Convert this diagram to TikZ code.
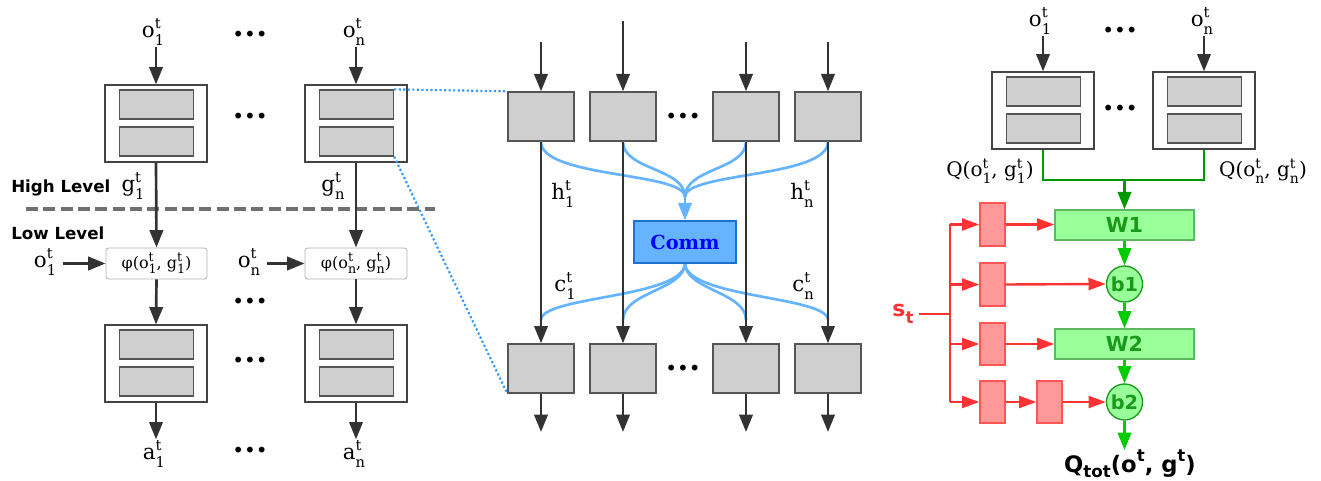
\documentclass[tikz,border=0pt]{standalone}
\usepackage{fontspec}
\setmainfont{DejaVu Serif}
\setsansfont{DejaVu Sans}
\usetikzlibrary{arrows.meta,fit,calc}
\definecolor{dark}{HTML}{333333}
\definecolor{grayfill}{HTML}{CFCFCF}
\definecolor{gborder}{HTML}{555555}
\definecolor{boxborder}{HTML}{444444}
\definecolor{lblue}{HTML}{66B3FF}
\definecolor{dblue}{HTML}{1F6FD0}
\definecolor{dotblue}{HTML}{3399FF}
\definecolor{dgreen}{HTML}{009900}
\definecolor{mgreen}{HTML}{00CC00}
\definecolor{lgreen}{HTML}{99FF99}
\definecolor{tgreen}{HTML}{1A9A1A}
\definecolor{rline}{HTML}{FF3333}
\definecolor{rfill}{HTML}{FF9999}
\definecolor{rborder}{HTML}{FF5555}
\definecolor{dashgray}{HTML}{707070}
\newcommand{\lbl}[3][11]{#2\rlap{\raisebox{0.8ex}{\fontsize{#1}{#1}\selectfont t}}\raisebox{-0.65ex}{\fontsize{#1}{#1}\selectfont #3}}
\newcommand{\twobox}[3]{%
 \pgfmathsetmacro{\xa}{#2}\pgfmathsetmacro{\xb}{#2+102}%
 \pgfmathsetmacro{\ya}{#3}\pgfmathsetmacro{\yb}{#3+77}%
 \pgfmathsetmacro{\ia}{#2+14.5}\pgfmathsetmacro{\ib}{#2+88.5}%
 \pgfmathsetmacro{\ja}{#3+5}\pgfmathsetmacro{\jb}{#3+34}%
 \pgfmathsetmacro{\jc}{#3+42}\pgfmathsetmacro{\jd}{#3+71}%
 \node[box, fit={(\xa,\ya) (\xb,\yb)}] (#1) {};
 \node[gbox, fit={(\ia,\ja) (\ib,\jb)}] (#1a) {};
 \node[gbox, fit={(\ia,\jc) (\ib,\jd)}] (#1b) {};}
\begin{document}
\begin{tikzpicture}[x=0.75pt,y=-0.75pt,
  box/.style={draw=boxborder, fill=white, line width=0.9pt, inner sep=0pt},
  gbox/.style={draw=gborder, fill=grayfill, line width=1pt, inner sep=0pt},
  phbox/.style={draw=black!30, fill=white, rounded corners=2pt, line width=0.7pt, inner sep=0pt},
  arr/.style={draw=dark, line width=2pt, -{Triangle[length=13pt,width=10pt]}},
  bline/.style={draw=lblue, line width=2pt},
  barr/.style={draw=lblue, line width=2pt, -{Triangle[length=13pt,width=10pt]}},
  dotl/.style={draw=dotblue, line width=1.6pt, dash pattern=on 1.6pt off 1.8pt},
  garr/.style={draw=dgreen, line width=2pt, -{Triangle[length=13pt,width=10pt]}},
  gline/.style={draw=dgreen, line width=2pt},
  marr/.style={draw=mgreen, line width=2pt, -{Triangle[length=13pt,width=10pt]}},
  rl/.style={draw=rline, line width=1.8pt},
  rarr/.style={draw=rline, line width=1.8pt, -{Triangle[length=13pt,width=9pt]}},
  rbox/.style={draw=rborder, fill=rfill, line width=1pt, inner sep=0pt},
  wbox/.style={draw=tgreen!70, fill=lgreen, line width=1pt, inner sep=0pt},
  wtxt/.style={text=tgreen, font=\sffamily\bfseries\fontsize{15.5}{15.5}\selectfont, inner sep=0pt},
  bcirc/.style={circle, draw=tgreen, fill=lgreen, line width=1pt, minimum size=27pt,
    inner sep=0pt, text=tgreen, font=\sffamily\bfseries\fontsize{14.5}{14.5}\selectfont},
  lab/.style={font=\fontsize{16}{16}\selectfont, inner sep=1pt},
  qlab/.style={font=\fontsize{15}{15}\selectfont, inner sep=1pt},
  dotsn/.style={font=\sffamily\fontsize{15}{15}\selectfont, inner sep=0pt},
  lvl/.style={font=\sffamily\bfseries\fontsize{12.5}{12.5}\selectfont, inner sep=0pt, anchor=west}]
\useasboundingbox (0,0) rectangle (1321,481);

% ================= LEFT PANEL =================
\coordinate (dl1) at (26,209);
\coordinate (dl2) at (435,209);
\draw[draw=dashgray, line width=2.7pt, dash pattern=on 9pt off 4pt] (dl1) -- (dl2);

\twobox{tb1}{105}{85}
\twobox{tbn}{305}{85}
\node[lab] (o1) at (153,32) {\lbl{o}{1}};
\node[lab] (on) at (354,32) {\lbl{o}{n}};
\draw[arr] (o1.south -| tb1.north) -- (tb1.north);
\draw[arr] (on.south -| tbn.north) -- (tbn.north);
\node[dotsn] (d1) at (250,36) {•••};
\node[dotsn] (d2) at (250,118) {•••};

\node[lvl] (hl) at (11,188) {High Level};
\node[lvl] (ll) at (11,233) {Low Level};
\node[lab] (g1) at (133,186) {\lbl{g}{1}};
\node[lab] (gn) at (333,186) {\lbl{g}{n}};

\node[phbox, fit={(106,248) (207,279)}] (ph1) {};
\node[font=\fontsize{12}{12}\selectfont, inner sep=0pt] at (ph1) {φ(\lbl[9.5]{o}{1}, \lbl[9.5]{g}{1})};
\node[phbox, fit={(305,248) (407,279)}] (phn) {};
\node[font=\fontsize{12}{12}\selectfont, inner sep=0pt] at (phn) {φ(\lbl[9.5]{o}{n}, \lbl[9.5]{g}{n})};
\draw[arr] (tb1.south) -- (ph1.north);
\draw[arr] (tbn.south) -- (phn.north);

\node[lab] (ol1) at (45,262) {\lbl{o}{1}};
\node[lab] (oln) at (249,262) {\lbl{o}{n}};
\draw[arr] ([xshift=4pt]ol1.east |- ph1.west) -- (ph1.west);
\draw[arr] ([xshift=4pt]oln.east |- phn.west) -- (phn.west);
\node[dotsn] (d3) at (250,303) {•••};

\twobox{lb1}{105}{325}
\twobox{lbn}{305}{325}
\draw[arr] (ph1.south) -- (lb1.north);
\draw[arr] (phn.south) -- (lbn.north);
\node[dotsn] (d4) at (250,362) {•••};

\node[lab] (a1) at (154,454) {\lbl{a}{1}};
\node[lab] (an) at (354,454) {\lbl{a}{n}};
\draw[arr] (lb1.south) -- (lb1.south |- a1.north);
\draw[arr] (lbn.south) -- (lbn.south |- an.north);
\node[dotsn] (d5) at (250,452) {•••};

% ================= MIDDLE PANEL =================
\foreach \i/\X in {1/541,2/623,3/746,4/828}{
  \node[gbox, fit={(\X-33,92) (\X+33,141)}] (mt\i) {};
  \node[gbox, fit={(\X-33,344) (\X+33,393)}] (mb\i) {};
  \coordinate (in\i) at (\X,42);
  \coordinate (out\i) at (\X,432);
  \coordinate (j\i) at (\X,320);
}
\coordinate (in2) at (623,21);
\node[dotsn] (d6) at (683,118) {•••};
\node[dotsn] (d7) at (683,370) {•••};

\draw[dotl] (tbna.north east) -- (mt1.north west);
\draw[dotl] (tbnb.south east) -- (mb1.south west);

\coordinate (cv) at (685,197);
% blue curves (behind dark lines)
\draw[bline] (mt1.south) .. controls (541,178) and (685,172) .. (cv);
\draw[bline] (mt2.south) .. controls (623,170) and (685,168) .. (cv);
\draw[bline] (mt3.south) .. controls (746,170) and (685,168) .. (cv);
\draw[bline] (mt4.south) .. controls (828,178) and (685,172) .. (cv);
\coordinate (cb) at (685,263);
\draw[bline] (cb) .. controls (685,298) and (541,296) .. (j1);
\draw[bline] (cb) .. controls (685,290) and (623,292) .. (j2);
\draw[bline] (cb) .. controls (685,290) and (746,292) .. (j3);
\draw[bline] (cb) .. controls (685,298) and (828,296) .. (j4);

\foreach \i in {1,2,3,4}{
  \draw[arr] (in\i) -- (mt\i.north);
  \draw[arr] (mt\i.south) -- (mb\i.north);
  \draw[arr] (mb\i.south) -- (out\i);
}
\node[draw=dblue, fill=lblue, line width=1pt, inner sep=0pt, fit={(634,221) (736,263)}] (comm) {};
\node[text=blue, font=\bfseries\fontsize{14.5}{14.5}\selectfont, inner sep=0pt] (commt) at (comm) {Comm};
\draw[barr] (cv) -- (comm.north);

\node[lab] (h1) at (563,194) {\lbl{h}{1}};
\node[lab] (hn) at (802,194) {\lbl{h}{n}};
\node[lab] (c1) at (565,286) {\lbl{c}{1}};
\node[lab] (cn) at (803,286) {\lbl{c}{n}};

% ================= RIGHT PANEL =================
\twobox{rb1}{992}{72}
\twobox{rbn}{1153}{72}
\node[lab] (ro1) at (1040,21) {\lbl{o}{1}};
\node[lab] (ron) at (1202,21) {\lbl{o}{n}};
\draw[arr] (ro1.south -| rb1.north) -- (rb1.north);
\draw[arr] (ron.south -| rbn.north) -- (rbn.north);
\node[dotsn] (d8) at (1120,32) {•••};
\node[dotsn] (d9) at (1120,110) {•••};
\node[qlab] (q1) at (990,171) {Q(\lbl[10.5]{o}{1}, \lbl[10.5]{g}{1})};
\node[qlab] (qn) at (1263,171) {Q(\lbl[10.5]{o}{n}, \lbl[10.5]{g}{n})};

\node[wbox, fit={(1055,210) (1194,240)}] (W1) {};
\node[wtxt] at (W1) {W1};
\node[wbox, fit={(1055,329) (1194,359)}] (W2) {};
\node[wtxt] at (W2) {W2};
\node[bcirc] (b1) at (1124.5,284) {b1};
\node[bcirc] (b2) at (1124.5,402) {b2};

\coordinate (gm) at (1124.5,180);
\draw[gline] (rb1.south) -- (rb1.south |- gm) -| (rbn.south);
\draw[garr] (gm) -- (W1.north);
\draw[marr] (W1.south) -- (b1.north);
\draw[marr] (b1.south) -- (W2.north);
\draw[marr] (W2.south) -- (b2.north);
\node[font=\sffamily\bfseries\fontsize{17}{17}\selectfont, inner sep=0pt] (qt) at (1130,464)
  {Q\raisebox{-0.4ex}{\fontsize{12.5}{12.5}\selectfont tot}(o\raisebox{0.85ex}{\fontsize{12.5}{12.5}\selectfont t}, g\raisebox{0.85ex}{\fontsize{12.5}{12.5}\selectfont t})};
\draw[marr] (b2.south) -- (b2.south |- qt.north);

\node[rbox, fit={(980,203) (1005,246)}] (r1) {};
\node[rbox, fit={(980,263) (1005,306)}] (r2) {};
\node[rbox, fit={(980,323) (1005,365)}] (r3) {};
\node[rbox, fit={(980,381) (1005,423)}] (r4) {};
\node[rbox, fit={(1037,381) (1062,423)}] (r5) {};
\node[text=rline, font=\sffamily\bfseries\fontsize{16.5}{16.5}\selectfont, inner sep=0pt] (st) at (903,314)
  {s\raisebox{-0.55ex}{\fontsize{12.5}{12.5}\selectfont t}};
\coordinate (sj) at (950,314);
\coordinate (tr1) at (950,224.5);
\coordinate (tr4) at (950,402);
\draw[rl] ([xshift=4pt]st.east |- sj) -- (sj);
\draw[rl] (tr1) -- (tr4);
\draw[rarr] (tr1) -- (r1.west);
\draw[rarr] (tr1 |- r2.west) -- (r2.west);
\draw[rarr] (tr1 |- r3.west) -- (r3.west);
\draw[rarr] (tr4) -- (r4.west);
\draw[rarr] (r1.east) -- (W1.west |- r1.east);
\draw[rarr] (r2.east) -- (b1.west);
\draw[rarr] (r3.east) -- (W2.west |- r3.east);
\draw[rarr] (r4.east) -- (r5.west);
\draw[rarr] (r5.east) -- (b2.west);
\end{tikzpicture}
\end{document}
